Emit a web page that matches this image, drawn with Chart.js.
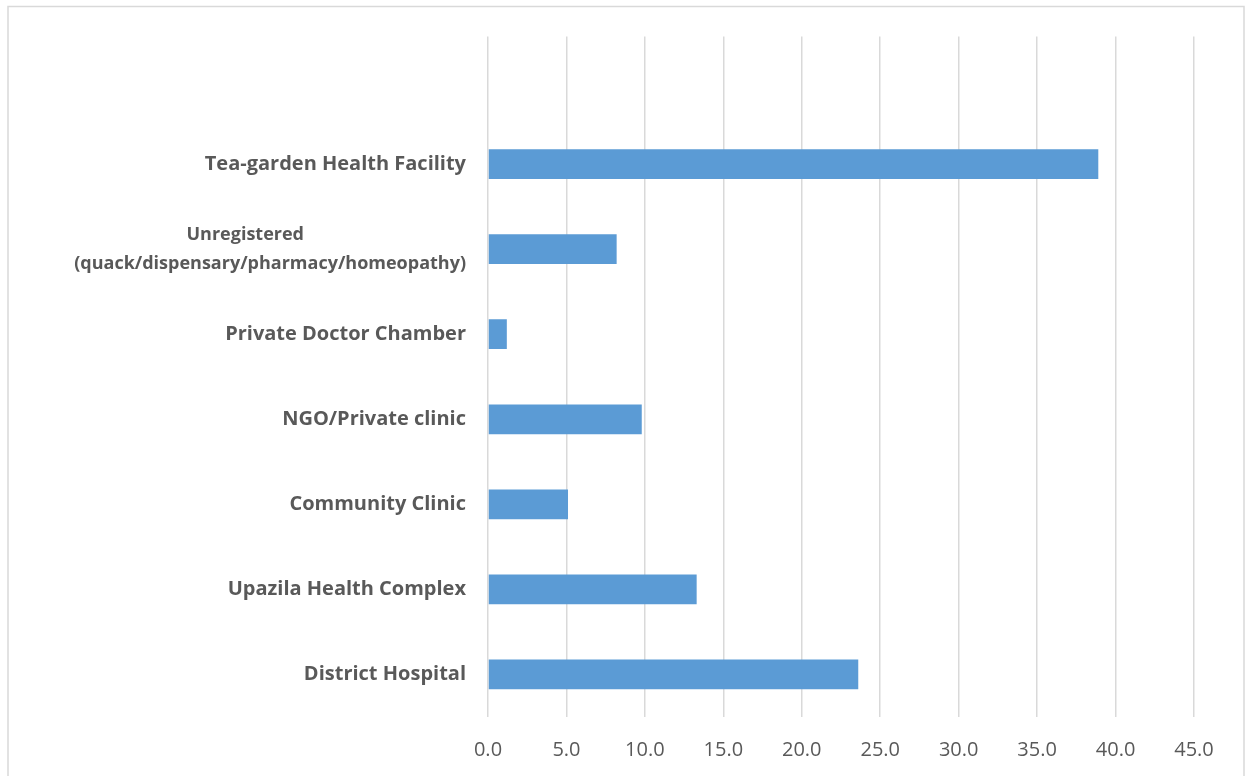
<!DOCTYPE html>
<html>
<head>
<meta charset="utf-8">
<script src="https://cdn.jsdelivr.net/npm/chart.js@4"></script>
<style>
html,body{margin:0;padding:0;background:#fff;}
#wrap{position:relative;width:1248px;height:776px;}
</style>
</head>
<body>
<div id="wrap"><canvas id="c" width="1248" height="776"></canvas></div>
<script>
const categories = [
  '',
  'Tea-garden Health Facility',
  ['Unregistered\u2003\u2003\u2003\u2003\u2003\u2003\u2003\u2003\u2003', '(quack/dispensary/pharmacy/homeopathy)'],
  'Private Doctor Chamber',
  'NGO/Private clinic',
  'Community Clinic',
  'Upazila Health Complex',
  'District Hospital'
];
const values = [null, 38.9, 8.2, 1.2, 9.8, 5.1, 13.3, 23.6];
const xTicks = { min: 0, max: 45, step: 5 };

const borderPlugin = {
  id: 'frame',
  beforeDraw(chart) {
    const ctx = chart.ctx;
    ctx.save();
    ctx.fillStyle = '#ffffff';
    ctx.fillRect(0, 0, chart.width, chart.height);
    ctx.strokeStyle = '#d9d9d9';
    ctx.lineWidth = 1.5;
    ctx.strokeRect(8, 6.5, 1236, 800);
    ctx.restore();
  }
};

new Chart(document.getElementById('c'), {
  type: 'bar',
  data: {
    labels: categories,
    datasets: [{
      data: values,
      backgroundColor: '#5b9bd5',
      borderWidth: 0,
      barPercentage: 0.5,
      categoryPercentage: 0.7
    }]
  },
  options: {
    indexAxis: 'y',
    responsive: false,
    animation: false,
    events: [],
    layout: { padding: { left: 0, right: 54, top: 35, bottom: 0 } },
    plugins: { legend: { display: false }, tooltip: { enabled: false } },
    scales: {
      x: {
        min: xTicks.min, max: xTicks.max,
        ticks: {
          stepSize: xTicks.step,
          color: '#595959',
          font: { family: "'Open Sans', sans-serif", size: 20 },
          padding: 21,
          callback: v => Number(v).toFixed(1)
        },
        grid: { color: '#d9d9d9', lineWidth: 1.5, drawTicks: false },
        border: { display: false },
        afterFit(s) { s.height = 59; }
      },
      y: {
        ticks: {
          color: '#595959',
          font: (c) => c.index === 2
            ? { family: "'Open Sans', sans-serif", size: 18, weight: 'bold', lineHeight: 1.6 }
            : { family: "'Open Sans', sans-serif", size: 20, weight: 'bold', lineHeight: 1.45 },
          padding: 22
        },
        grid: { display: false, drawTicks: false },
        border: { display: false },
        afterFit(s) { s.width = 488; }
      }
    }
  },
  plugins: [borderPlugin]
});
</script>
</body>
</html>
